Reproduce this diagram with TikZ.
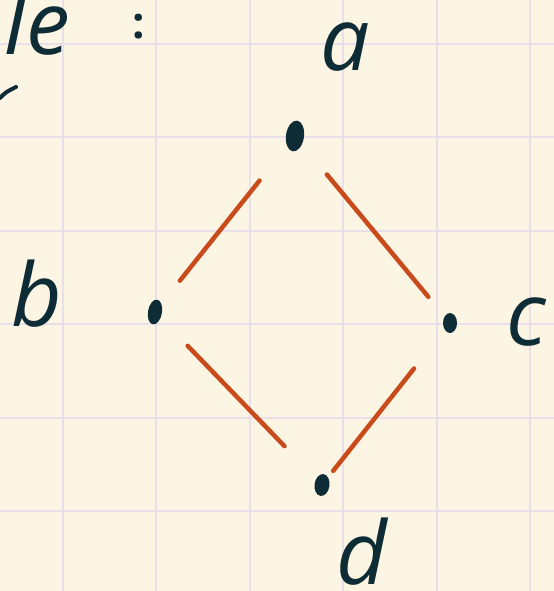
\documentclass[tikz,border=0pt]{standalone}
\usepackage{fontspec}
\newfontfamily\handfont{Open Sans}
\usepackage{xcolor}
\usepackage{tikz}
\usetikzlibrary{shapes.geometric}
\definecolor{paper}{HTML}{FDF5E3}
\definecolor{gridln}{HTML}{E8DFEA}
\definecolor{ink}{HTML}{0E2C35}
\definecolor{rust}{HTML}{C94B1B}
\begin{document}
\begin{tikzpicture}[x=1bp,y=-1bp,
  inkdot/.style={shape=ellipse,fill=ink,inner sep=0pt},
  lbl/.style={text=ink,inner sep=0pt,anchor=base,font=\fontsize{88}{88}\handfont\itshape},
  edge/.style={draw=rust,line width=4.5bp,line cap=round}]
  \useasboundingbox (0,0) rectangle (554,591);
  \fill[paper] (0,0) rectangle (554,591);
  \foreach \k in {0,...,5} {
    \draw[gridln,line width=2bp] ({63+93.4*\k},0) -- ({63+93.4*\k},591);
    \draw[gridln,line width=2bp] (0,{44+93.4*\k}) -- (554,{44+93.4*\k});
  }
  \node[lbl,anchor=base east] (head) at (70,55) {le};
  \node[lbl,font=\fontsize{44}{44}\handfont\bfseries] (colon) at (139,39) {:};
  \draw[ink,line width=4bp,line cap=round] (0,98) .. controls (6,92) .. (16,87);
  \node[inkdot,minimum width=18bp,minimum height=31bp,rotate=-8] (a) at (295,136) {};
  \node[inkdot,minimum width=14bp,minimum height=25bp,rotate=-10] (b) at (155,312) {};
  \node[inkdot,minimum width=14bp,minimum height=20bp] (c) at (450,323) {};
  \node[inkdot,minimum width=15bp,minimum height=22bp,rotate=-8] (d) at (322,485) {};
  \node[lbl] (la) at (345,71) {a};
  \node[lbl] (lb) at (37,326) {b};
  \node[lbl] (lc) at (526,345) {c};
  \node[lbl] (ld) at (362,584) {d};
  \draw[edge,shorten <=57bp,shorten >=40bp] (a.center) -- (b.center);
  \draw[edge,shorten <=50bp,shorten >=34bp] (a.center) -- (c.center);
  \draw[edge,shorten <=47bp,shorten >=54bp] (b.center) -- (d.center);
  \draw[edge,shorten <=58bp,shorten >=18bp] (c.center) -- (d.center);
\end{tikzpicture}
\end{document}
